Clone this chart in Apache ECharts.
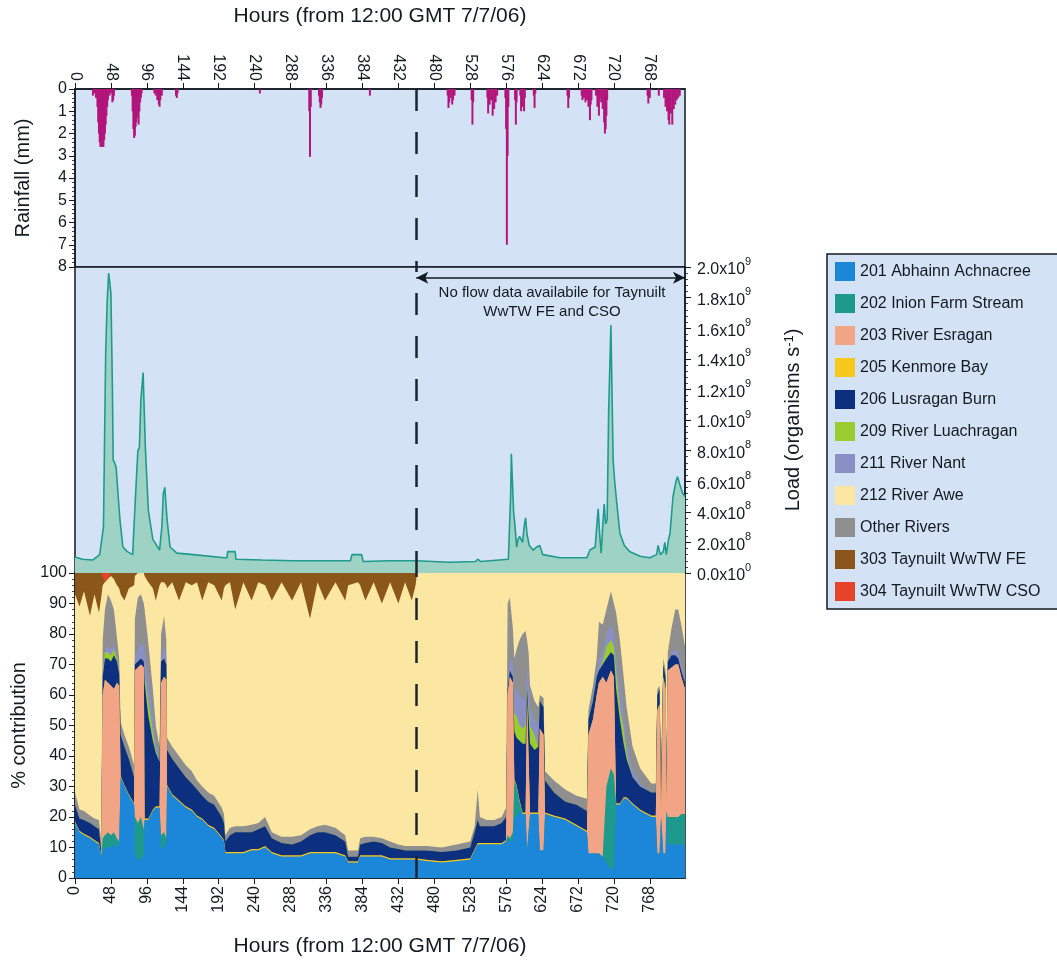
<!DOCTYPE html>
<html><head><meta charset="utf-8">
<script src="https://cdn.jsdelivr.net/npm/echarts@6/dist/echarts.min.js"></script>
<style>html,body{margin:0;padding:0;background:#fff}#c{width:1057px;height:963px}</style>
</head><body><div id="c"></div>
<script>
// ---------- DATA ----------
const rainHours = [24,26,28,30,31,32,33,34,35,36,37,38,39,40,41,42,43,44,46,48,50,51,52,
  76,77,78,79,80,81,82,83,84,85,86,87,88,89,
  106,108,110,112,113,114,116, 135,136,137, 247, 313,314,315, 326,327,328,329,330, 394,
  498,499,500,502,504,505,507, 530,531,532, 551,552,554,556,558,560,562,564,
  575,576,577,578,579, 588,589,590, 595,596,598,600,601, 613,614,615, 658,659,660,
  677,678,680,682,684,686,688,689,690, 696,698,700,701,703,705,707,708,709,710,711,
  765,766,768, 780, 787,789,791,793,794,796,798,800,802,804,806,808];
const rainMm = [0.3,0.2,0.4,0.8,1.5,2.0,2.4,2.6,2.5,2.6,2.5,2.6,2.3,2.0,1.6,1.2,0.8,0.5,0.3,0.2,0.6,0.5,0.3,
  0.3,1.0,1.8,2.2,2.1,1.7,1.5,1.3,1.2,1.6,1.0,0.6,0.4,0.2,
  0.2,0.3,0.5,0.7,0.8,0.5,0.3, 0.3,0.4,0.2, 0.2, 1.0,3.05,0.8, 0.3,0.6,0.85,0.7,0.4, 0.3,
  0.3,0.85,0.6,0.4,0.7,0.5,0.3, 0.5,1.6,0.6, 0.4,1.1,0.7,0.5,1.2,0.9,0.6,0.3,
  0.4,1.8,7.0,3.0,0.8, 0.5,1.6,0.6, 0.3,1.0,0.8,1.0,0.4, 0.3,0.85,0.2, 0.3,0.85,0.4,
  0.3,0.5,0.4,0.6,0.5,0.8,1.4,0.7,0.5, 0.3,0.8,1.2,0.4,0.6,0.9,1.5,2.0,1.8,1.2,0.5,
  0.3,0.65,0.4, 0.3, 0.4,0.8,1.0,1.4,1.6,1.1,1.6,0.9,0.7,0.5,0.4,0.3];

const loadHours = [0,10,24,33,38,41,43,45,48,50,51,53,55,57,60,64,70,77,81,84,
  86,88,91,94,98,104,113,116,118,120,123,127,136,158,200,203,204,214,215,250,
  291,368,370,383,385,420,456,500,535,538,542,579,582,583,586,588,590,592,594,596,
  598,600,602,604,607,612,617,621,625,648,684,688,695,697,699,701,703,705,707,709,
  711,713,716,719,721,724,728,734,741,755,768,777,779,782,786,788,790,793,795,799,
  803,805,808,812,815];
const loadBillions = [0.105,0.09,0.085,0.12,0.30,1.44,1.78,1.96,1.83,1.2,0.74,0.72,0.69,0.55,0.35,0.17,0.14,0.12,0.52,0.80,
  0.82,1.13,1.31,0.82,0.41,0.22,0.15,0.30,0.52,0.56,0.35,0.17,0.13,0.12,0.10,0.10,0.14,0.14,0.09,0.085,
  0.08,0.08,0.12,0.12,0.075,0.08,0.08,0.07,0.075,0.09,0.075,0.09,0.50,0.78,0.40,0.30,0.17,0.22,0.24,0.22,
  0.20,0.30,0.36,0.25,0.18,0.15,0.17,0.18,0.12,0.10,0.10,0.15,0.17,0.30,0.42,0.25,0.13,0.30,0.45,0.32,
  0.35,1.06,1.62,0.74,0.60,0.45,0.26,0.18,0.14,0.11,0.10,0.12,0.18,0.12,0.14,0.20,0.12,0.22,0.26,0.50,
  0.60,0.63,0.58,0.52,0.50];

const pctHours = [0,6,12,20,26,32,35,37,40,44, 48,52,56,59,61,66,72,79,80,84,
  88,92,93,98,104,108,113,115,119,122, 123,130,139,148,156,163,170,178,186,196,
  199,201,207,214,225,236,245,254,263,276, 290,302,314,324,334,348,361,365,378,381,
  388,399,410,421,432,441,450,455,457,470, 490,510,528,534,538,541,550,560,570,576,
  578,581,585,587,590,594,598,602,604,606, 608,614,619,621,626,628,640,655,670,684,
  686,692,697,700,705,710,716,720,723,728, 733,737,745,755,770,776,778,781,783,786,
  789,790,792,797,802,806,810,815];
const pctAbhainn = [18,15,14,13,12,11,7,9,10,10, 10,11,10,12,33,30,27,24,8,6,
  6,8,19,19,22,23,23,10,10,12, 30,27,25,23,22,20,19,17,16,13,
  12,8,8,8,8,9,9,10,8,7, 7,7,8,8,8,8,7,5,5,7,
  7,7,7,6,6,6,6,6,5.5,5.5, 5,5.5,6,9,11,11,11,11,11,12,
  13,12,12,20,20,22,21,21,9,9, 21,21,21,9,9,21,20,19,17,15,
  8,8,8,8,7,5,3,3,24,24, 26,26,24,22,20,20,8,8,20,8,
  8,22,11,11,11,11,11,11];
const pctInion = [0,0,0,0,0,0,0,4,4,5, 4,4,3,0,0,0,0,0,12,12,
  14,8,0,0,0,0,0,4,5,1, 0,0,0,0,0,0,0,0,0,0,
  0,0,0,0,0,0,0,0,0,0, 0,0,0,0,0,0,0,0,0,0,
  0,0,0,0,0,0,0,0,0,0, 0,0,0,0,0,0,0,0,0,0,
  1,1,3,12,10,3,0,0,0,0, 0,0,0,0,0,0,0,0,0,0,
  0,0,0,0,0,25,33,31,0,0, 0,0,0,0,0,0,0,0,0,0,
  0,0,9,9,9,9,10,10];
const pctEsragan = [0,0,0,0,0,0,0,47,51,49, 49,47,51,51,0,0,0,0,48,51,
  50,53,0,0,0,0,0,50,51,52, 0,0,0,0,0,0,0,0,0,0,
  0,0,0,0,0,0,0,0,0,0, 0,0,0,0,0,0,0,0,0,0,
  0,0,0,0,0,0,0,0,0,0, 0,0,0,0,0,0,0,0,0,0,
  46,53,49,0,0,0,0,0,49,49, 0,0,0,40,38,0,0,0,0,0,
  39,44,52,56,59,34,32,32,0,0, 0,0,0,0,0,0,47,49,0,58,
  54,0,48,49,50,50,45,41];
const pctKenmore = [0.5,0.5,0.5,0.5,0.5,0.5,0.5,0,0,0, 0,0,0,0,0.5,0.5,0.5,0.5,0,0,
  0,0,0.5,0.5,0.5,0.5,0.5,0,0,0, 0.5,0.5,0.5,0.5,0.5,0.5,0.5,0.5,0.5,0.5,
  0.5,0.5,0.5,0.5,0.5,0.5,0.5,0.5,0.5,0.5, 0.5,0.5,0.5,0.5,0.5,0.5,0.5,0.5,0.5,0.5,
  0.5,0.5,0.5,0.5,0.5,0.5,0.5,0.5,0.5,0.5, 0.5,0.5,0.5,0.5,0.5,0.5,0.5,0.5,0.5,0.5,
  0,0,0,0.5,0.5,0.5,0.5,0.5,0,0, 0.5,0.5,0.5,0,0,0.5,0.5,0.5,0.5,0.5,
  0,0,0,0,0,0,0,0,0.5,0.5, 0.5,0.5,0.5,0.5,0.5,0.5,0,0,0.5,0,
  0,0.5,0,0,0,0,0,0];
const pctLusragan = [5.5,4,4.5,4.5,4.5,4.5,1.5,6,7,8, 8,11,7,4,13.5,12.5,11.5,8.5,2,2,
  2,2,44.5,33.5,22.5,17.5,14.5,7,6,5, 11.5,11.5,10.5,9.5,8.5,8.5,7.5,7.5,7.5,6.5,
  5.5,3.5,5.5,6.5,6.5,5.5,6.5,6.5,4.5,4, 3.5,4.5,5.5,6.5,6.5,5.5,4.5,1.5,1.5,3.5,
  4,4.5,4,3.5,3,2.5,2.5,2.5,3,3, 3,3,3.5,5.5,7.5,5.5,5.5,5.5,6.5,7.5,
  2,2,2,15.5,15.5,19.5,22.5,22.5,4,4, 22.5,20.5,21.5,9,9,10.5,7.5,5.5,6.5,6.5,
  5,6,6,4,4,8,6,7,37.5,27.5, 17.5,12.5,8.5,7.5,7.5,7.5,5,5,9.5,4,
  4,9.5,3,4,3,2,2,2];
const pctLuachragan = [0,0,0,0,0,0,0,1,2,2, 2,2,1,0,0,0,0,0,0,0,
  0,0,2,5,3,1,0,0,0,0, 0,0,0,0,0,0,0,0,0,0,
  0,0,0,0,0,0,0,0,0,0, 0,0,0,0,0,0,0,0,0,0,
  0,0,0,0,0,0,0,0,0,0, 0,0,0,0,0,0,0,0,0,0,
  0,0,0,6,7,5,5,6,0,0, 6,5,0,0,0,0,0,0,0,0,
  0,0,0,0,1,4,4,3,6,4, 5,2,0,0,0,0,0,0,0,0,
  0,0,0,0,0,0,0,0];
const pctNant = [0,0,0,0,0,0,0,1,1,2, 2,2,1,1,1,0,0,0,2,4,
  5,5,9,7,6,2,1,2,4,2, 0,0,0,0,0,0,0,0,0,0,
  0,0,0,0,0,0,0,0,0,0, 0,0,0,0,0,0,0,0,0,0,
  0,0,0,0,0,0,0,0,0,0, 0,0,0,0,0,0,0,0,0,0,
  4,4,4,8,9,10,10,8,6,4, 6,5,7,0,0,0,0,0,0,0,
  0,2,2,4,3,4,5,4,5,8, 5,4,3,1,0,0,0,0,0,0,
  0,0,0,1,2,2,2,2];
const pctOther = [4,3,3,2.5,2.5,3,3,10,13,17, 16,11,6,4,3,4,4,4,13,17,
  16,14,13,12,8,6,4,7,10,6, 4,4,4,4,4,3,3,3,3,3,
  3,2,2.5,2,2,2.5,2,3,2,2, 2.5,2,2,2,2.5,2.5,2,2,2,2,
  2,1.5,1.5,2,1.5,1.5,1.5,1.5,1.5,1.5, 1.5,2,2,2,10,3,2,2,2,3,
  24,20,12,10,13,18,21,23,10,8, 7,6,6,2,3,3,4,4,3,4,
  3,3,4,12,9,8,11,10,14,14, 12,11,7,5,3,3,2,1,5,2,
  2,4,3,8,13,14,13,10];
const pctAwe = [65,66.5,72,65.5,73.5,68,80,18,9,5, 8,10,17,23,42,44,52,59,14,8,
  7,10,11,20,33,41,53,17,11,18, 49,54,51,60,61,65,61,69,69,68,
  74,82,80.5,71,80,73.5,79,76,76,83.5, 77.5,83,69,80,73.5,80.5,77,87,88,83,
  77.5,83.5,77,85,79,86.5,80.5,85.5,89.5,89.5, 90,89,88,83,71,80,81,81,80,77,
  10,8,18,28,25,22,20,19,22,26, 37,42,44,40,41,65,68,71,73,74,
  45,37,28,16,17,12,6,10,13,22, 34,44,57,64,69,69,38,37,65,28,
  32,64,26,18,12,12,17,24];
const pctTaynuiltFE = [7,11,6,14,7,13,8,4,0,0, 1,2,4,5,7,9,5,4,1,0,
  0,0,1,3,5,9,4,3,3,4, 5,3,9,3,4,3,9,3,4,9,
  5,4,3,12,3,9,3,4,9,3, 9,3,15,3,9,3,9,4,3,4,
  9,3,10,3,10,3,9,4,0,0, 0,0,0,0,0,0,0,0,0,0,
  0,0,0,0,0,0,0,0,0,0, 0,0,0,0,0,0,0,0,0,0,
  0,0,0,0,0,0,0,0,0,0, 0,0,0,0,0,0,0,0,0,0,
  0,0,0,0,0,0,0,0];
const pctTaynuiltCSO = [0,0,0,0,0,0,0,0,3,2, 0,0,0,0,0,0,0,0,0,0,
  0,0,0,0,0,0,0,0,0,0, 0,0,0,0,0,0,0,0,0,0,
  0,0,0,0,0,0,0,0,0,0, 0,0,0,0,0,0,0,0,0,0,
  0,0,0,0,0,0,0,0,0,0, 0,0,0,0,0,0,0,0,0,0,
  0,0,0,0,0,0,0,0,0,0, 0,0,0,0,0,0,0,0,0,0,
  0,0,0,0,0,0,0,0,0,0, 0,0,0,0,0,0,0,0,0,0,
  0,0,0,0,0,0,0,0];

const legendOrder = ['201 Abhainn Achnacree','202 Inion Farm Stream','203 River Esragan','205 Kenmore Bay',
  '206 Lusragan Burn','209 River Luachragan','211 River Nant','212 River Awe','Other Rivers',
  '303 Taynuilt WwTW FE','304 Taynuilt WwTW CSO'];
const noFlowFrom = 456;     // hour of the dashed divider
const hourMax = 815;
const arrowLoad = 1.93e9;
const noFlowText = 'No flow data availabile for Taynuilt\nWwTW FE and CSO';

// ---------- STYLE ----------
const FONT = "'Liberation Sans', Arial, Helvetica, sans-serif";
const INK = '#141a22';
const PANEL = '#d3e3f5';
// bottom-to-top stacking order
const stackDefs = [
  ['201 Abhainn Achnacree', pctAbhainn, '#1c87d9'],
  ['202 Inion Farm Stream', pctInion, '#1d9a8b'],
  ['203 River Esragan', pctEsragan, '#f1a586'],
  ['205 Kenmore Bay', pctKenmore, '#f6c71c'],
  ['206 Lusragan Burn', pctLusragan, '#0d2f7f'],
  ['209 River Luachragan', pctLuachragan, '#9acb2f'],
  ['211 River Nant', pctNant, '#8a8fc6'],
  ['Other Rivers', pctOther, '#8f8f8f'],
  ['212 River Awe', pctAwe, '#fce7a2'],
  ['303 Taynuilt WwTW FE', pctTaynuiltFE, '#8a561a'],
  ['304 Taynuilt WwTW CSO', pctTaynuiltCSO, '#e5442a']
];

const zip = (xs, ys) => xs.map((x, i) => [x, ys[i]]);
const axisLine = {show: true, onZero: false, lineStyle: {color: INK, width: 1.5}};
const tick = {show: true, length: 6, lineStyle: {color: INK, width: 1}};
const minor = {show: true, splitNumber: 5, length: 3, lineStyle: {color: INK, width: 0.8}};
const dash = () => ({
  silent: true, symbol: 'none', label: {show: false},
  lineStyle: {color: '#1b2530', width: 2.5, type: [22, 21]},
  data: [{xAxis: noFlowFrom}]
});
function loadLabel(v) {
  if (v === 0) return '{b|0.0x10}{s|0}';
  const e = Math.floor(Math.log10(v) + 1e-9);
  const m = v / Math.pow(10, e);
  return '{b|' + m.toFixed(1) + 'x10}{s|' + e + '}';
}
const grids = [
  {left: 75, top: 89, width: 610, height: 178},
  {left: 75, top: 267, width: 610, height: 306},
  {left: 75, top: 573, width: 610, height: 305}
].map(g => Object.assign(g, {show: true, backgroundColor: PANEL, borderColor: INK, borderWidth: 1.5}));

const hourAxis = (gi, pos, gap) => ({
  gridIndex: gi, type: 'value', min: 0, max: hourMax, interval: 48, position: pos,
  name: 'Hours (from 12:00 GMT 7/7/06)', nameLocation: 'middle', nameGap: gap,
  nameTextStyle: {fontSize: 21, color: INK, fontFamily: FONT},
  axisLine: axisLine, axisTick: tick,
  axisLabel: {rotate: 90, fontSize: 16, color: INK, margin: 8, showMaxLabel: false, fontFamily: FONT},
  splitLine: {show: false}
});

const series = [
  {type: 'bar', xAxisIndex: 0, yAxisIndex: 0, data: zip(rainHours, rainMm), barWidth: 2,
   itemStyle: {color: '#b2157b'}, silent: true, markLine: dash()},
  {type: 'line', xAxisIndex: 1, yAxisIndex: 1, data: zip(loadHours, loadBillions.map(v => v * 1e9)),
   symbol: 'none', silent: true, lineStyle: {color: '#1f9b8c', width: 1.6},
   areaStyle: {color: '#9dd2c5', opacity: 1}, markLine: dash()},
  {type: 'line', xAxisIndex: 1, yAxisIndex: 1, data: [[noFlowFrom, arrowLoad], [hourMax, arrowLoad]],
   symbol: 'none', silent: true, lineStyle: {opacity: 0},
   markLine: {silent: true, symbol: ['arrow', 'arrow'], symbolSize: [9, 12], label: {show: false},
     lineStyle: {color: INK, width: 1.5, type: 'solid'},
     data: [[{coord: [noFlowFrom, arrowLoad]}, {coord: [hourMax, arrowLoad]}]]}}
];
// cumulative tops of the stacked percentages (bottom to top)
const cumulative = [];
let running = pctHours.map(() => 0);
stackDefs.forEach(d => {
  running = running.map((v, i) => v + d[1][i]);
  cumulative.push(running);
});
// draw from the top band down, each filled to the axis, so every band shows between its neighbours
for (let i = stackDefs.length - 1; i >= 0; i--) {
  const d = stackDefs[i];
  const s = {
    name: d[0], type: 'line', xAxisIndex: 2, yAxisIndex: 2,
    data: zip(pctHours, cumulative[i]), symbol: 'none', silent: true, color: d[2],
    itemStyle: {color: d[2]}, lineStyle: {width: 0}, areaStyle: {color: d[2], opacity: 1}
  };
  if (i === 0) s.markLine = dash();
  series.push(s);
}

const chart = echarts.init(document.getElementById('c'));
chart.setOption({
  animation: false,
  textStyle: {fontFamily: FONT, color: INK},
  grid: grids,
  xAxis: [hourAxis(0, 'top', 62), Object.assign(hourAxis(1, 'bottom', 10), {show: false}), hourAxis(2, 'bottom', 58)],
  yAxis: [
    {gridIndex: 0, type: 'value', min: 0, max: 8, interval: 1, inverse: true,
     name: 'Rainfall (mm)', nameLocation: 'middle', nameGap: 42, nameRotate: 90,
     nameTextStyle: {fontSize: 20, color: INK},
     axisLine: axisLine, axisTick: tick, minorTick: minor,
     axisLabel: {fontSize: 16, color: INK, margin: 8}, splitLine: {show: false}},
    {gridIndex: 1, type: 'value', min: 0, max: 2e9, interval: 2e8, position: 'right',
     name: 'Load (organisms s{s|-1})', nameLocation: 'middle', nameGap: 98, nameRotate: 90,
     nameTextStyle: {fontSize: 20, color: INK, rich: {s: {fontSize: 13, verticalAlign: 'top', lineHeight: 14}}},
     axisLine: axisLine, axisTick: tick, minorTick: minor,
     axisLabel: {fontSize: 16, color: INK, margin: 12, formatter: loadLabel,
       rich: {b: {fontSize: 16, lineHeight: 22, verticalAlign: 'bottom', color: INK},
              s: {fontSize: 11, lineHeight: 14, verticalAlign: 'top', color: INK}}},
     splitLine: {show: false}},
    {gridIndex: 2, type: 'value', min: 0, max: 100, interval: 10,
     name: '% contribution', nameLocation: 'middle', nameGap: 42, nameRotate: 90,
     nameTextStyle: {fontSize: 20, color: INK},
     axisLine: axisLine, axisTick: tick, minorTick: minor,
     axisLabel: {fontSize: 16, color: INK, margin: 8}, splitLine: {show: false}}
  ],
  legend: {
    data: legendOrder, left: 827, top: 254, orient: 'vertical', icon: 'rect',
    itemWidth: 20, itemHeight: 19, itemGap: 13, padding: [8, 40, 8, 8],
    backgroundColor: PANEL, borderColor: INK, borderWidth: 1.5, selectedMode: false,
    textStyle: {fontSize: 16, color: INK, fontFamily: FONT}
  },
  graphic: [{
    type: 'text', x: 552, y: 283, silent: true,
    style: {text: noFlowText, align: 'center', verticalAlign: 'top', fontSize: 15,
            lineHeight: 19, fontFamily: FONT, fill: INK}
  }],
  series: series
});
</script></body></html>
